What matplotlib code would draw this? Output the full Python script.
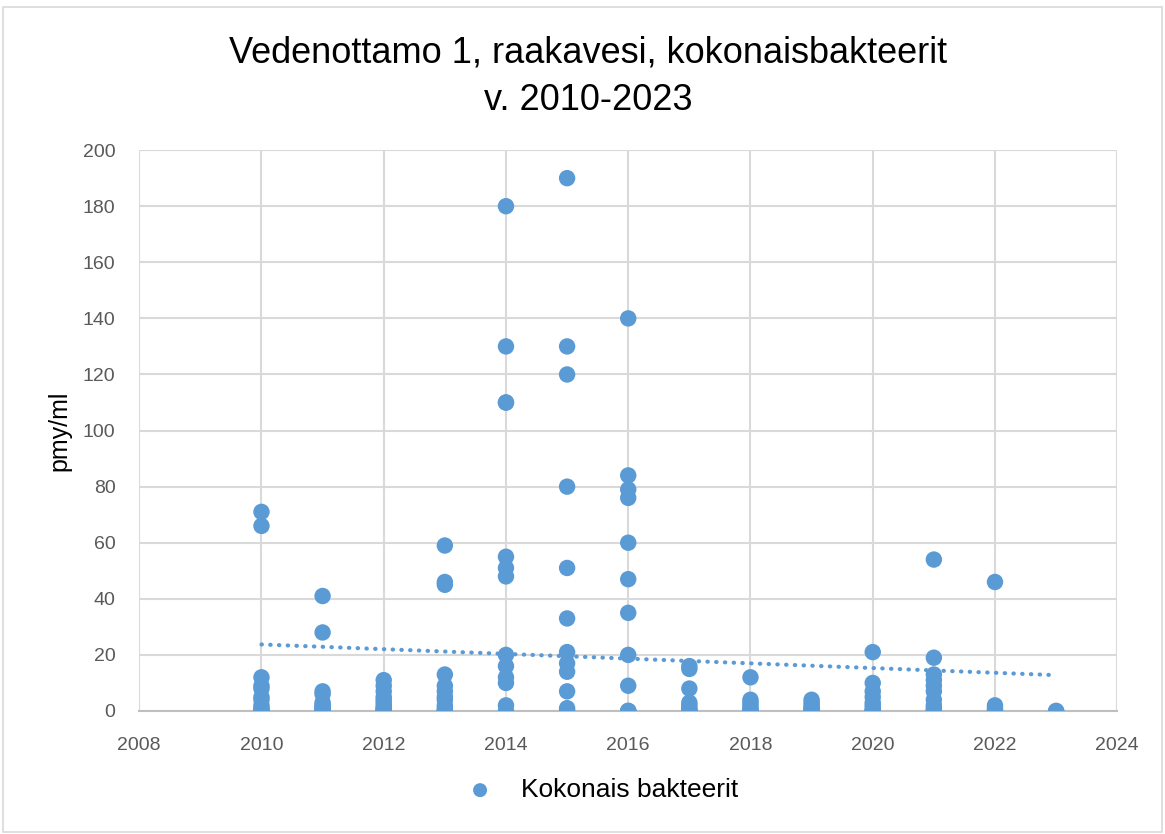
import numpy as np
import matplotlib
matplotlib.use("Agg")
import matplotlib.pyplot as plt
from matplotlib.patches import Rectangle

# Data: year -> measured values (pmy/ml); many low values overlap in the picture
y2010 = [71, 66, 12, 9, 8, 5, 4, 2, 1, 0, 0, 0, 0]
y2011 = [41, 28, 7, 6, 3, 2, 2, 1, 1, 0, 0, 0, 0]
y2012 = [11, 9, 7, 5, 4, 3, 2, 1, 1, 0, 0, 0, 0]
y2013 = [59, 46, 45, 13, 9, 7, 5, 4, 2, 1, 0, 0, 0]
y2014 = [180, 130, 110, 110, 55, 51, 48, 20, 16, 12, 10, 2, 0]
y2015 = [190, 130, 120, 80, 51, 33, 21, 17, 14, 7, 1, 0]
y2016 = [140, 84, 79, 76, 60, 47, 35, 20, 9, 0, 0, 0]
y2017 = [16, 15, 8, 3, 2, 1, 0, 0, 0, 0]
y2018 = [12, 4, 3, 2, 1, 0, 0, 0, 0]
y2019 = [4, 3, 2, 1, 1, 0, 0, 0]
y2020 = [21, 10, 7, 5, 3, 2, 1, 0, 0, 0]
y2021 = [54, 19, 13, 11, 9, 7, 4, 2, 1, 0, 0]
y2022 = [46, 2, 1, 0, 0]
y2023 = [0, 0]

years = [2010, 2011, 2012, 2013, 2014, 2015, 2016, 2017, 2018, 2019, 2020, 2021, 2022, 2023]
values = [y2010, y2011, y2012, y2013, y2014, y2015, y2016, y2017, y2018, y2019,
          y2020, y2021, y2022, y2023]

x = np.concatenate([[yr] * len(v) for yr, v in zip(years, values)]).astype(float)
y = np.concatenate(values).astype(float)

color = "#5B9BD5"
plt.rcParams['font.family'] = ['Liberation Sans', 'DejaVu Sans']

fig = plt.figure(figsize=(11.65, 8.34), dpi=100)
ax = fig.add_axes([0.1195, 0.1475, 0.8395, 0.6725])

# Linear trend line
slope, intercept = np.polyfit(x, y, 1)
tx = np.array([min(years), max(years)])
ax.plot(tx, slope * tx + intercept, linestyle=(0, (0.1, 2.0)), dash_capstyle='round',
        color=color, linewidth=3, zorder=3)

ax.scatter(x, y, s=140, color=color, edgecolors='none', zorder=4,
           label="Kokonais bakteerit")

ax.set_xlim(2008, 2024)
ax.set_ylim(0, 200)
ax.set_xticks(np.arange(2008, 2025, 2))
ax.set_yticks(np.arange(0, 201, 20))
ax.grid(True, color="#d9d9d9", linewidth=1.5, zorder=0)
ax.set_axisbelow(True)
for s in ['top', 'right', 'left']:
    ax.spines[s].set_visible(False)
ax.spines['bottom'].set_color("#bfbfbf")
ax.spines['bottom'].set_linewidth(1.5)
ax.tick_params(axis='both', length=0, labelsize=14, colors="#595959", pad=17)
ax.tick_params(axis='x', pad=19)

ax.set_ylabel("pmy/ml", fontsize=18, color="black", labelpad=8)

fig.text(0.505, 0.937, "Vedenottamo 1, raakavesi, kokonaisbakteerit", ha='center',
         va='center', fontsize=26, color='black')
fig.text(0.505, 0.880, "v. 2010-2023", ha='center', va='center', fontsize=26, color='black')

leg = ax.legend(loc='center', bbox_to_anchor=(0.467, -0.141), frameon=False, fontsize=19,
                handletextpad=0.55, markerscale=0.85)

fig.patches.append(Rectangle((0.003, 0.002), 0.994, 0.99, transform=fig.transFigure,
                             fill=False, edgecolor="#d9d9d9", linewidth=1.2))

fig.savefig("out.png", dpi=100)
